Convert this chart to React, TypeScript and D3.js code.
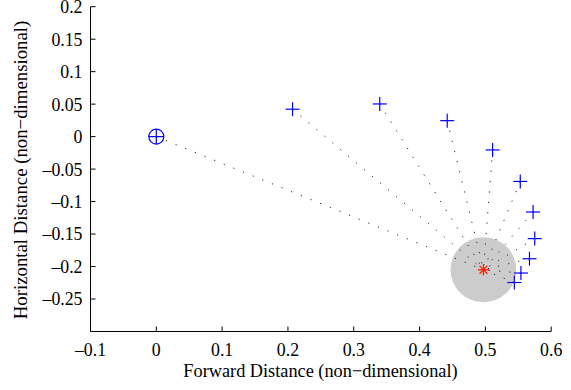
import React from "react";
import * as d3 from "d3";

const W = 571;
const H = 390;

const xTicks = [-0.1, 0, 0.1, 0.2, 0.3, 0.4, 0.5, 0.6];
const yTicks = [-0.25, -0.2, -0.15, -0.1, -0.05, 0, 0.05, 0.1, 0.15, 0.2];

const startPoint = [0, 0];
const targetPoint = [0.497, -0.205];
const targetRadius = 0.05;

const pointsX = [0.207, 0.3395, 0.442, 0.511, 0.553, 0.5725, 0.575, 0.567, 0.554, 0.544];
const pointsY = [0.0422, 0.0503, 0.0246, -0.0205, -0.069, -0.116, -0.157, -0.188, -0.21, -0.2246];

const fmt = (v: number) => {
  const s = String(Math.round(v * 1000) / 1000);
  return s.replace("-", "\u2013");
};

export default function App() {
  const x = d3.scaleLinear().domain([-0.1, 0.6]).range([90.5, 551.2]);
  const y = d3.scaleLinear().domain([-0.3, 0.2]).range([331.5, 6.7]);
  const font = "'Liberation Serif', 'Times New Roman', serif";
  const x0 = x(-0.1);
  const yb = y(-0.3);
  const tx = x(targetPoint[0]);
  const ty = y(targetPoint[1]);
  const rx = x(targetRadius) - x(0);
  const ry = y(-targetRadius) - y(0);
  const pts = pointsX.map((px, i) => [px, pointsY[i]]);
  const allStarts = [startPoint, ...pts];
  const m = 7;
  const s = 5.5;
  return (
    <svg width={W} height={H} style={{ position: "absolute", left: 0, top: 0, background: "#fff" }}>
      <ellipse cx={tx} cy={ty} rx={rx} ry={ry} fill="#cccccc" />
      {allStarts.map((p, i) => (
        <line
          key={"l" + i}
          x1={x(p[0])}
          y1={y(p[1])}
          x2={tx}
          y2={ty}
          stroke="#222"
          strokeWidth={1}
          strokeDasharray="1.2 9.2"
        />
      ))}
      {/* axes */}
      <line x1={x0} y1={y(0.2)} x2={x0} y2={yb} stroke="#000" strokeWidth={1} />
      <line x1={x0} y1={yb} x2={x(0.6)} y2={yb} stroke="#000" strokeWidth={1} />
      {xTicks.map((t) => (
        <g key={"xt" + t}>
          <line x1={x(t)} x2={x(t)} y1={yb} y2={yb - 5} stroke="#000" strokeWidth={1} />
          <text x={x(t)} y={355.5} textAnchor="middle" fontFamily={font} fontSize={17.8}>
            {fmt(t)}
          </text>
        </g>
      ))}
      {yTicks.map((t) => (
        <g key={"yt" + t}>
          <line x1={x0} x2={x0 + 5} y1={y(t)} y2={y(t)} stroke="#000" strokeWidth={1} />
          <text x={82.5} y={y(t)} dy="0.36em" textAnchor="end" fontFamily={font} fontSize={17.8}>
            {fmt(t)}
          </text>
        </g>
      ))}
      <text x={320.5} y={376.5} textAnchor="middle" fontFamily={font} fontSize={18.3}>
        Forward Distance (non{"\u2212"}dimensional)
      </text>
      <text
        transform={`translate(27,170) rotate(-90)`}
        textAnchor="middle"
        fontFamily={font}
        fontSize={18.8}
      >
        Horizontal Distance (non{"\u2212"}dimensional)
      </text>
      {/* start marker */}
      <g stroke="#0000ff" strokeWidth={1.2} fill="none">
        <circle cx={x(startPoint[0])} cy={y(startPoint[1])} r={7.5} />
        <line x1={x(startPoint[0]) - 7.5} x2={x(startPoint[0]) + 7.5} y1={y(startPoint[1])} y2={y(startPoint[1])} />
        <line x1={x(startPoint[0])} x2={x(startPoint[0])} y1={y(startPoint[1]) - 7.5} y2={y(startPoint[1]) + 7.5} />
      </g>
      {pts.map((p, i) => (
        <g key={"p" + i} stroke="#0000ff" strokeWidth={1.2}>
          <line x1={x(p[0]) - m} x2={x(p[0]) + m} y1={y(p[1])} y2={y(p[1])} />
          <line x1={x(p[0])} x2={x(p[0])} y1={y(p[1]) - m} y2={y(p[1]) + m} />
        </g>
      ))}
      <g stroke="#ff2200" strokeWidth={1.3}>
        {[0, 45, 90, 135].map((a) => {
          const r = (a * Math.PI) / 180;
          return (
            <line
              key={"s" + a}
              x1={tx - s * Math.cos(r)}
              y1={ty - s * Math.sin(r)}
              x2={tx + s * Math.cos(r)}
              y2={ty + s * Math.sin(r)}
            />
          );
        })}
      </g>
    </svg>
  );
}
